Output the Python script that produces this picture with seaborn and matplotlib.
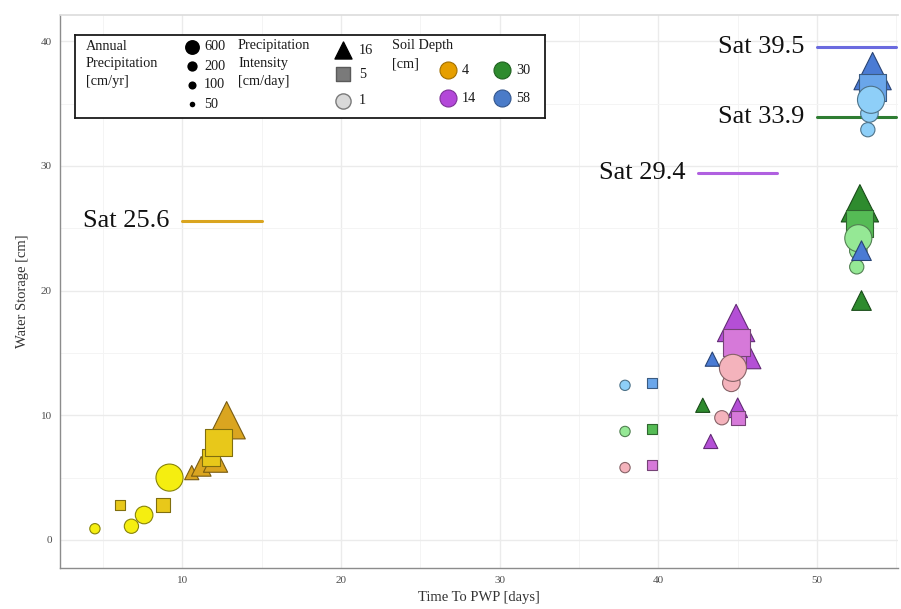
import matplotlib
matplotlib.use("Agg")
import matplotlib.pyplot as plt
import numpy as np
import pandas as pd
import seaborn as sns
from matplotlib.colors import to_rgb

# ---- data -------------------------------------------------------------
soil_depth = [4] * 12 + [14] * 12 + [30] * 12 + [58] * 12
intensity = ([16] * 4 + [5] * 4 + [1] * 4) * 4
annual_precip = [50, 100, 200, 600] * 12

time_to_pwp = [
    # depth 4: triangles, squares, circles
    10.6, 11.2, 12.1, 12.8,
    6.1, 8.8, 11.8, 12.3,
    4.5, 6.8, 7.6, 9.2,
    # depth 14
    43.3, 45.0, 45.7, 44.9,
    39.6, 45.0, 45.0, 44.9,
    37.9, 44.0, 44.6, 44.7,
    # depth 30
    42.8, 52.8, 52.8, 52.7,
    39.6, 52.6, 52.7, 52.7,
    37.9, 52.5, 52.6, 52.6,
    # depth 58
    43.4, 52.8, 53.5, 53.5,
    39.6, 53.3, 53.4, 53.5,
    37.9, 53.2, 53.3, 53.4,
]
water_storage = [
    5.4, 5.9, 6.4, 9.6,
    2.8, 2.8, 6.6, 7.8,
    0.9, 1.1, 2.0, 5.0,
    7.9, 10.6, 14.7, 17.4,
    6.0, 9.8, 14.6, 15.8,
    5.8, 9.8, 12.6, 13.8,
    10.8, 19.2, 26.0, 27.0,
    8.9, 24.2, 25.0, 25.4,
    8.7, 21.9, 23.2, 24.2,
    14.5, 23.2, 36.5, 37.6,
    12.6, 35.0, 35.8, 36.3,
    12.4, 32.9, 34.2, 35.3,
]

sat_depths = [4, 14, 30, 58]
sat_values = [25.6, 29.4, 33.9, 39.5]
sat_x_start = [10.0, 42.5, 50.0, 50.0]
sat_colors = ["#DAA520", "#B060E0", "#2E7D32", "#6A6ADF"]

depth_legend_colors = {4: "#E69F00", 14: "#B347D9", 30: "#2E8B2E", 58: "#4A7BC8"}

fill_colors = {
    "4-16": "#DAA520", "4-5": "#E8C81A", "4-1": "#F5EE10",
    "14-16": "#B44FD6", "14-5": "#D679D9", "14-1": "#F4B3BC",
    "30-16": "#2E8B2E", "30-5": "#55BB55", "30-1": "#95E895",
    "58-16": "#4A7BD4", "58-5": "#6AA6EA", "58-1": "#8ECFF8",
}

df = pd.DataFrame({
    "depth": soil_depth,
    "intensity": intensity,
    "precip": annual_precip,
    "time": time_to_pwp,
    "storage": water_storage,
})
df["key"] = df["depth"].astype(str) + "-" + df["intensity"].astype(str)

base_sizes = {50: 55, 100: 105, 200: 160, 600: 380}
marker_for = {16: "^", 5: "s", 1: "o"}
scale_for = {16: 1.9, 5: 1.0, 1: 1.0}


def darker(c, f=0.55):
    r, g, b = to_rgb(c)
    return (r * f, g * f, b * f)


# ---- figure -------------------------------------------------------------
sns.set_theme(style="white")
plt.rcParams["font.family"] = ["Liberation Serif", "DejaVu Serif"]

fig = plt.figure(figsize=(9.01, 6.09), dpi=100)
ax = fig.add_axes([60 / 901, 1 - 568 / 609, 838 / 901, 553 / 609])

ax.set_xlim(2.3, 55.1)
ax.set_ylim(-2.25, 42.1)

ax.set_xticks([10, 20, 30, 40, 50])
ax.set_yticks([0, 10, 20, 30, 40])
ax.set_xticks([5, 15, 25, 35, 45, 55], minor=True)
ax.set_yticks([5, 15, 25, 35], minor=True)
ax.grid(True, which="major", color="#EBEBEB", linewidth=1.0)
ax.grid(True, which="minor", color="#F4F4F4", linewidth=0.7)
ax.set_axisbelow(True)

for side in ["left", "bottom"]:
    ax.spines[side].set_color("#8C8C8C")
    ax.spines[side].set_linewidth(1.0)
ax.spines["top"].set_color("#DDDDDD")
ax.spines["right"].set_visible(False)

ax.tick_params(axis="both", which="major", length=3, width=0.8, color="#8C8C8C",
               labelsize=8, labelcolor="#4D4D4D", pad=3)
ax.tick_params(axis="both", which="minor", length=0)

# points, drawn depth by depth: triangles, then squares, circles on top
for d in sat_depths:
    for inten in [16, 5, 1]:
        key = f"{d}-{inten}"
        grp = df[df["key"] == key]
        sizes = {p: v * scale_for[inten] for p, v in base_sizes.items()}
        sns.scatterplot(
            data=grp, x="time", y="storage", size="precip", sizes=sizes,
            color=fill_colors[key], marker=marker_for[inten],
            edgecolor=darker(fill_colors[key]), linewidth=0.8,
            legend=False, ax=ax, zorder=3,
        )

# saturation lines with labels
for d, v, x0, c in zip(sat_depths, sat_values, sat_x_start, sat_colors):
    ax.plot([x0, x0 + 5], [v, v], color=c, linewidth=2.2, zorder=2)
    ax.text(x0 - 0.8, v, f"Sat {v}", ha="right", va="center",
            fontsize=19, color="#111111")

ax.set_xlabel("Time To PWP [days]", fontsize=10.5, color="#333333", labelpad=4)
ax.set_ylabel("Water Storage [cm]", fontsize=10.5, color="#333333", labelpad=8)

# ---- legend box (pixel coordinates inside an inset) -----------------------
lg = fig.add_axes([75 / 901, 1 - 118 / 609, 470 / 901, 83 / 609])
lg.set_xlim(75, 545)
lg.set_ylim(118, 35)
lg.set_xticks([])
lg.set_yticks([])
lg.set_facecolor("white")
for s in lg.spines.values():
    s.set_color("#1A1A1A")
    s.set_linewidth(1.3)
    s.set_visible(True)

txt_kw = dict(fontsize=10.3, color="#1A1A1A", va="center", ha="left")
for i, line in enumerate(["Annual", "Precipitation", "[cm/yr]"]):
    lg.text(86, 46 + i * 18, line, **txt_kw)
for i, line in enumerate(["Precipitation", "Intensity", "[cm/day]"]):
    lg.text(238, 46 + i * 18, line, **txt_kw)
for i, line in enumerate(["Soil Depth", "[cm]"]):
    lg.text(392, 46 + i * 18, line, **txt_kw)

key_precip = [600, 200, 100, 50]
key_precip_y = [47, 66, 85, 104]
key_precip_s = [115, 55, 34, 16]
for p, yy, ss in zip(key_precip, key_precip_y, key_precip_s):
    lg.scatter([192], [yy], s=ss, color="black", marker="o", linewidths=0)
    lg.text(204, yy, str(p), **txt_kw)

key_int = [16, 5, 1]
key_int_y = [50, 74, 101]
key_int_style = [("^", "black", "black", 150),
                 ("s", "#7A7A7A", "#5A5A5A", 110),
                 ("o", "#D9D9D9", "#7A7A7A", 120)]
for k, yy, (m, fc, ec, ss) in zip(key_int, key_int_y, key_int_style):
    lg.scatter([343], [yy], s=ss, marker=m, color=fc, edgecolors=ec, linewidths=1.0)
    lg.text(359, yy, str(k), **txt_kw)

key_depth_pos = {4: (448, 70), 14: (448, 98), 30: (502, 70), 58: (502, 98)}
for d, (xx, yy) in key_depth_pos.items():
    c = depth_legend_colors[d]
    lg.scatter([xx], [yy], s=150, marker="o", color=c, edgecolors=darker(c, 0.7),
               linewidths=0.8)
    lg.text(xx + 14, yy, str(d), **txt_kw)

fig.savefig("out.png", dpi=100)
